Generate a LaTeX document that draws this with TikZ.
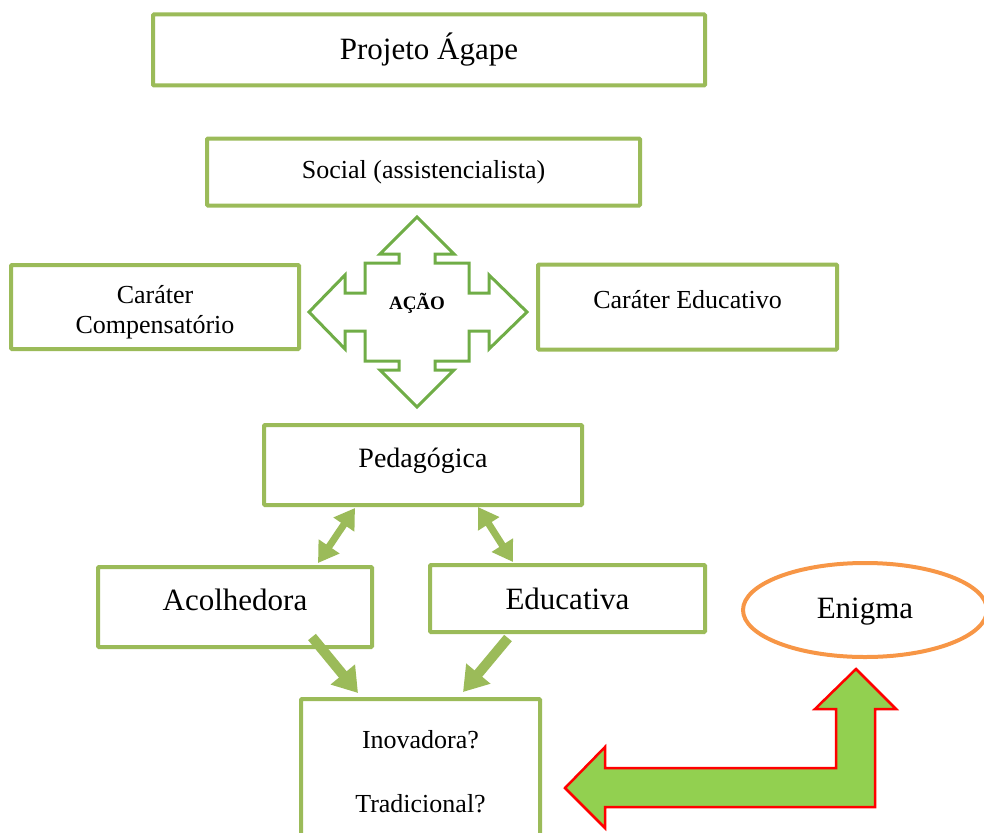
\documentclass[tikz,border=0pt]{standalone}
\usepackage{fontspec}
\setmainfont{Liberation Serif}
\usepackage{xcolor}
\usepackage{tikz}
\usetikzlibrary{shapes.geometric}
\usetikzlibrary{arrows.meta}
\usetikzlibrary{positioning}

\definecolor{boxgreen}{HTML}{9BBB59}
\definecolor{crossgreen}{HTML}{70AD47}
\definecolor{bentgreen}{HTML}{92D050}
\definecolor{enigmaorange}{HTML}{F79646}

\begin{document}
\begin{tikzpicture}[
  x=1pt, y=-1pt,
  box/.style={draw=boxgreen, line width=4pt, rounded corners=1pt, fill=white, inner sep=0pt},
  big/.style={font=\fontsize{31}{35}\selectfont},
  mid/.style={font=\fontsize{26}{30}\selectfont},
  dbl/.style={{Triangle[length=20pt,width=24pt]}-{Triangle[length=20pt,width=24pt]}, line width=7pt, boxgreen},
  fat/.style={-{Triangle[length=24pt,width=30pt]}, line width=10pt, boxgreen}
]
\useasboundingbox (0,0) rectangle (984,832);

%% Top boxes
\node[box, big, minimum width=552pt, minimum height=71pt] (proj) at (429,50) {Projeto Ágape};
\node[box, mid, minimum width=433pt, minimum height=67pt] (social) at (423.5,172) {Social (assistencialista)};

%% Middle row
\node[box, mid, align=center, minimum width=288pt, minimum height=84pt] (comp) at (155,307) {\rule{0pt}{28pt}Caráter\\Compensatório};
\node[box, mid, text depth=16pt, minimum width=299pt, minimum height=85pt] (edu) at (687.5,307) {Caráter Educativo};
\node[font=\bfseries\fontsize{19}{21}\selectfont] (acao) at (417,303) {AÇÃO};

%% Cross arrow round AÇÃO
\draw[crossgreen, line width=3pt, line join=miter, shift={(417,312)}]
  (0,-95) -- (37,-58) -- (18,-58) -- (18,-49) -- (52,-49) -- (52,-19) -- (72,-19) -- (72,-37)
  -- (110,0) -- (72,37) -- (72,19) -- (52,19) -- (52,49) -- (18,49) -- (18,58) -- (37,58)
  -- (0,95) -- (-37,58) -- (-18,58) -- (-18,49) -- (-52,49) -- (-52,19) -- (-72,19) -- (-72,37)
  -- (-108,0) -- (-72,-37) -- (-72,-19) -- (-52,-19) -- (-52,-49) -- (-18,-49) -- (-18,-58) -- (-37,-58) -- cycle;

%% Lower boxes
\node[box, font=\fontsize{28}{32}\selectfont, text depth=14pt, minimum width=318pt, minimum height=80pt] (ped) at (423,465) {Pedagógica};
\node[box, big, text depth=14pt, minimum width=274pt, minimum height=80pt] (acol) at (235,607) {Acolhedora};
\node[box, big, minimum width=275pt, minimum height=67pt] (educ) at (567.5,598.5) {Educativa};
\node[box, mid, align=center, minimum width=239pt, minimum height=146pt] (inov) at (420.5,772) {Inovadora?\\[34pt]Tradicional?};
\node[draw=enigmaorange, line width=4pt, ellipse, big, text depth=4pt, minimum width=244pt, minimum height=94pt] (enigma) at (865,610) {Enigma};

%% Arrows between boxes
\coordinate (p1) at (355,508);
\coordinate (a1) at (318,563);
\coordinate (p2) at (478,507);
\coordinate (e1) at (513,562);
\coordinate (a2) at (312,637);
\coordinate (i1) at (358,693);
\coordinate (e2) at (508,638);
\coordinate (i2) at (463,692);

\draw[dbl] (p1)--(a1);
\draw[dbl] (p2)--(e1);
\draw[fat] (a2)--(i1);
\draw[fat] (e2)--(i2);

%% Bent arrow to Enigma
\draw[red, fill=bentgreen, line width=2.5pt, line join=miter]
  (565,788) -- (605,747) -- (605,768) -- (836,768) -- (836,709) -- (815,709) -- (856,669)
  -- (896,709) -- (875,709) -- (875,807) -- (605,807) -- (605,828) -- cycle;

\end{tikzpicture}
\end{document}
